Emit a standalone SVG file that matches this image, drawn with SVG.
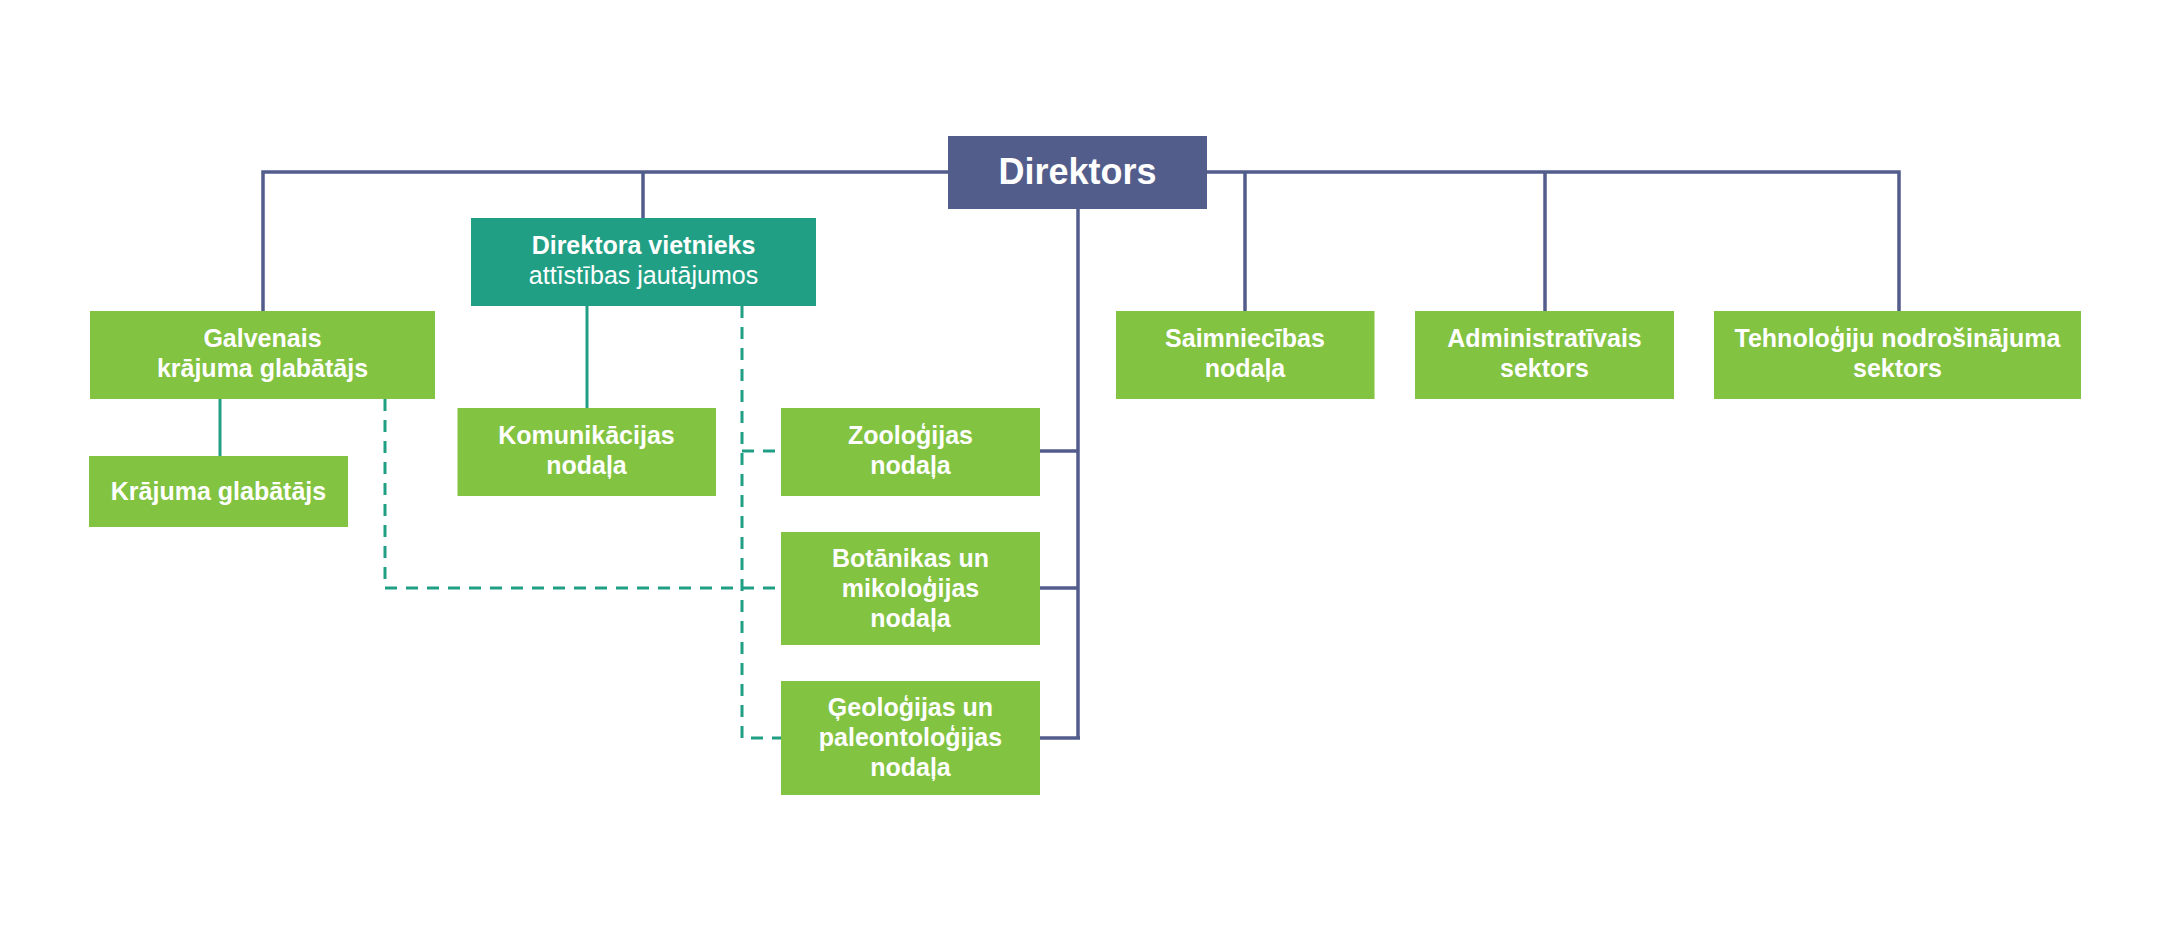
<svg xmlns="http://www.w3.org/2000/svg" width="2170" height="932" viewBox="0 0 2170 932">
<style>
.bg{fill:#ffffff}
.green{fill:#82c341}
.teal{fill:#219f85}
.blue{fill:#525d8c}
text{font-family:"Liberation Sans",Arial,sans-serif;fill:#ffffff;text-anchor:middle}
.t{font-size:25px;font-weight:bold}
.r{font-size:25px;font-weight:normal}
.big{font-size:36px;font-weight:bold}
.cb{stroke:#525d8c;stroke-width:3.5;fill:none}
.ct{stroke:#219f85;stroke-width:3;fill:none}
.cd{stroke:#219f85;stroke-width:3;fill:none;stroke-dasharray:12 9}
</style>
<rect class="bg" x="0" y="0" width="2170" height="932"/>
<g id="connectors">
<path class="cb" d="M263,311 V172 H1899 V311"/>
<path class="cb" d="M643,172 V218"/>
<path class="cb" d="M1245,172 V311"/>
<path class="cb" d="M1545,172 V311"/>
<path class="cb" d="M1078,209 V739"/>
<path class="cb" d="M1040,451 H1078"/>
<path class="cb" d="M1040,588 H1078"/>
<path class="cb" d="M1040,738 H1080"/>
<path class="ct" d="M220,399 V456"/>
<path class="ct" d="M587,306 V408"/>
<path class="cd" d="M385,399 V588 H781"/>
<path class="cd" d="M742,306 V738 H781"/>
<path class="cd" d="M742,451 H781"/>
</g>
<g id="direktors">
<rect class="blue" x="948" y="136" width="259" height="73"/>
<text class="big" x="1077.5" y="184">Direktors</text>
</g>
<g id="vietnieks">
<rect class="teal" x="471" y="218" width="345" height="88"/>
<text class="t" x="643.5" y="254">Direktora vietnieks</text>
<text class="r" x="643.5" y="284">attīstības jautājumos</text>
</g>
<g id="galvenais">
<rect class="green" x="90" y="311" width="345" height="88"/>
<text class="t" x="262.5" y="347">Galvenais</text>
<text class="t" x="262.5" y="377">krājuma glabātājs</text>
</g>
<g id="krajuma">
<rect class="green" x="89" y="456" width="259" height="71"/>
<text class="t" x="218.5" y="500">Krājuma glabātājs</text>
</g>
<g id="komunikacijas">
<rect class="green" x="457.5" y="408" width="258.5" height="88"/>
<text class="t" x="586.5" y="444">Komunikācijas</text>
<text class="t" x="586.5" y="474">nodaļa</text>
</g>
<g id="zoologijas">
<rect class="green" x="781" y="408" width="259" height="88"/>
<text class="t" x="910.5" y="444">Zooloģijas</text>
<text class="t" x="910.5" y="474">nodaļa</text>
</g>
<g id="botanikas">
<rect class="green" x="781" y="532" width="259" height="113"/>
<text class="t" x="910.5" y="567">Botānikas un</text>
<text class="t" x="910.5" y="597">mikoloģijas</text>
<text class="t" x="910.5" y="627">nodaļa</text>
</g>
<g id="geologijas">
<rect class="green" x="781" y="681" width="259" height="114"/>
<text class="t" x="910.5" y="716">Ģeoloģijas un</text>
<text class="t" x="910.5" y="746">paleontoloģijas</text>
<text class="t" x="910.5" y="776">nodaļa</text>
</g>
<g id="saimniecibas">
<rect class="green" x="1116" y="311" width="258.5" height="88"/>
<text class="t" x="1245" y="347">Saimniecības</text>
<text class="t" x="1245" y="377">nodaļa</text>
</g>
<g id="administrativais">
<rect class="green" x="1415" y="311" width="259" height="88"/>
<text class="t" x="1544.5" y="347">Administratīvais</text>
<text class="t" x="1544.5" y="377">sektors</text>
</g>
<g id="tehnologiju">
<rect class="green" x="1714" y="311" width="367" height="88"/>
<text class="t" x="1897.5" y="347">Tehnoloģiju nodrošinājuma</text>
<text class="t" x="1897.5" y="377">sektors</text>
</g>
</svg>
